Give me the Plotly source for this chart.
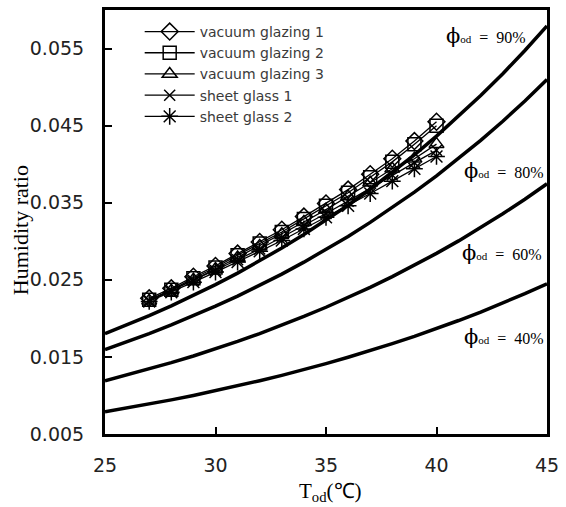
import plotly.graph_objects as go

# Psychrometric curves
T_curve = list(range(25, 46))
w_90 = [0.01802, 0.01915, 0.02035, 0.02162, 0.02296, 0.02438, 0.02587, 0.02745, 0.02912, 0.03087,
        0.03272, 0.03468, 0.03675, 0.03892, 0.04122, 0.04364, 0.04620, 0.04890, 0.05174, 0.05475, 0.05794]
w_80 = [0.01596, 0.01696, 0.01803, 0.01915, 0.02032, 0.02158, 0.02289, 0.02428, 0.02574, 0.02729,
        0.02892, 0.03063, 0.03245, 0.03436, 0.03637, 0.03849, 0.04073, 0.04309, 0.04557, 0.04819, 0.05097]
w_60 = [0.01189, 0.01264, 0.01342, 0.01425, 0.01512, 0.01605, 0.01701, 0.01803, 0.01911, 0.02025,
        0.02144, 0.02270, 0.02402, 0.02542, 0.02688, 0.02843, 0.03005, 0.03176, 0.03357, 0.03546, 0.03746]
w_40 = [0.00788, 0.00837, 0.00889, 0.00943, 0.01000, 0.01060, 0.01124, 0.01191, 0.01261, 0.01335,
        0.01413, 0.01495, 0.01581, 0.01672, 0.01767, 0.01867, 0.01972, 0.02082, 0.02198, 0.02320, 0.02448]
curve_labels = ["90%", "80%", "60%", "40%"]

# Measured series
T_series = list(range(27, 41))
vg1 = [0.0226, 0.0239, 0.0254, 0.0268, 0.0284, 0.0299, 0.0315, 0.0332, 0.0349, 0.0367, 0.0387, 0.0407, 0.0430, 0.0455]
vg2 = [0.0224, 0.0237, 0.0252, 0.0266, 0.0282, 0.0297, 0.0312, 0.0329, 0.0346, 0.0363, 0.0383, 0.0403, 0.0426, 0.0450]
vg3 = [0.0223, 0.0236, 0.0250, 0.0264, 0.0279, 0.0294, 0.0309, 0.0325, 0.0341, 0.0358, 0.0376, 0.0394, 0.0407, 0.0426]
sg1 = [0.0223, 0.0236, 0.0249, 0.0262, 0.0276, 0.0290, 0.0305, 0.0320, 0.0336, 0.0352, 0.0369, 0.0386, 0.0402, 0.0418]
sg2 = [0.0222, 0.0234, 0.0247, 0.0260, 0.0273, 0.0287, 0.0301, 0.0316, 0.0331, 0.0346, 0.0362, 0.0378, 0.0394, 0.0410]
series_names = ["vacuum glazing 1", "vacuum glazing 2", "vacuum glazing 3", "sheet glass 1", "sheet glass 2"]
series_symbols = ["diamond-open", "square-open", "triangle-up-open", "x-thin-open", "asterisk-open"]

x_ticks = [25, 30, 35, 40, 45]
y_ticks = [0.005, 0.015, 0.025, 0.035, 0.045, 0.055]

W, H = 566, 507
L, R, T, B = 105, 551, 7, 434

fig = go.Figure()
for w in [w_90, w_80, w_60, w_40]:
    fig.add_trace(go.Scatter(x=T_curve, y=w, mode="lines", showlegend=False,
                             line=dict(color="black", width=3.5), hoverinfo="skip"))

sizes = [13, 13, 13, 11, 14]
for name, vals, sym, sz in zip(series_names, [vg1, vg2, vg3, sg1, sg2], series_symbols, sizes):
    fig.add_trace(go.Scatter(x=T_series, y=vals, mode="lines+markers", name=name,
                             line=dict(color="black", width=1.3),
                             marker=dict(symbol=sym, size=sz, color="black",
                                         line=dict(color="black", width=1.5))))

def px2x(px):
    return (px - L) / (R - L)

def px2y(py):
    return (B - py) / (B - T)

annots = []
lab_pos = [(447, 33), (465, 169), (463, 252), (465, 336)]
for lab, (px, py) in zip(curve_labels, lab_pos):
    annots.append(dict(xref="paper", yref="paper", x=px2x(px), y=px2y(py), xanchor="left", yanchor="middle",
                       showarrow=False,
                       text="<span style='font-size:21px;font-family:DejaVu Serif'>ϕ</span>"
                            "<span style='font-size:11px'>od</span>&nbsp; =&nbsp; " + lab,
                       font=dict(family="Liberation Serif", size=16, color="black")))
annots.append(dict(xref="paper", yref="paper", x=px2x(20), y=px2y(229), xanchor="center", yanchor="middle",
                   showarrow=False, textangle=-90, text="Humidity ratio",
                   font=dict(family="Liberation Serif", size=22, color="black")))
annots.append(dict(xref="paper", yref="paper", x=px2x(333), y=px2y(492), xanchor="center", yanchor="middle",
                   showarrow=False, text="T<sub>od</sub>(℃)",
                   font=dict(family="Liberation Serif", size=21, color="black")))

fig.update_layout(
    width=W, height=H,
    margin=dict(l=L, r=W - R, t=T, b=H - B),
    paper_bgcolor="white", plot_bgcolor="white",
    showlegend=True,
    legend=dict(x=px2x(140), y=px2y(13), xanchor="left", yanchor="top",
                bgcolor="rgba(0,0,0,0)", font=dict(family="DejaVu Sans", size=14, color="#3a3a3a"),
                itemwidth=50, tracegroupgap=0),
    annotations=annots,
)
fig.update_xaxes(range=[25, 45], tickvals=x_ticks, ticktext=[str(v) for v in x_ticks],
                 showgrid=False, zeroline=False, showline=True, linecolor="black", linewidth=3,
                 mirror=True, ticks="inside", ticklen=7, tickwidth=1.5, tickcolor="black",
                 tickfont=dict(family="DejaVu Sans", size=19, color="#222"), ticklabelstandoff=12)
fig.update_yaxes(range=[0.005, 0.06], tickvals=y_ticks, ticktext=[f"{v:.3f}" for v in y_ticks],
                 showgrid=False, zeroline=False, showline=True, linecolor="black", linewidth=3,
                 mirror=True, ticks="inside", ticklen=7, tickwidth=1.5, tickcolor="black",
                 tickfont=dict(family="DejaVu Sans", size=19, color="#222"), ticklabelstandoff=14)

fig.write_html("out.html", post_script="document.body.style.margin='0px';",
               config={"displayModeBar": False})
